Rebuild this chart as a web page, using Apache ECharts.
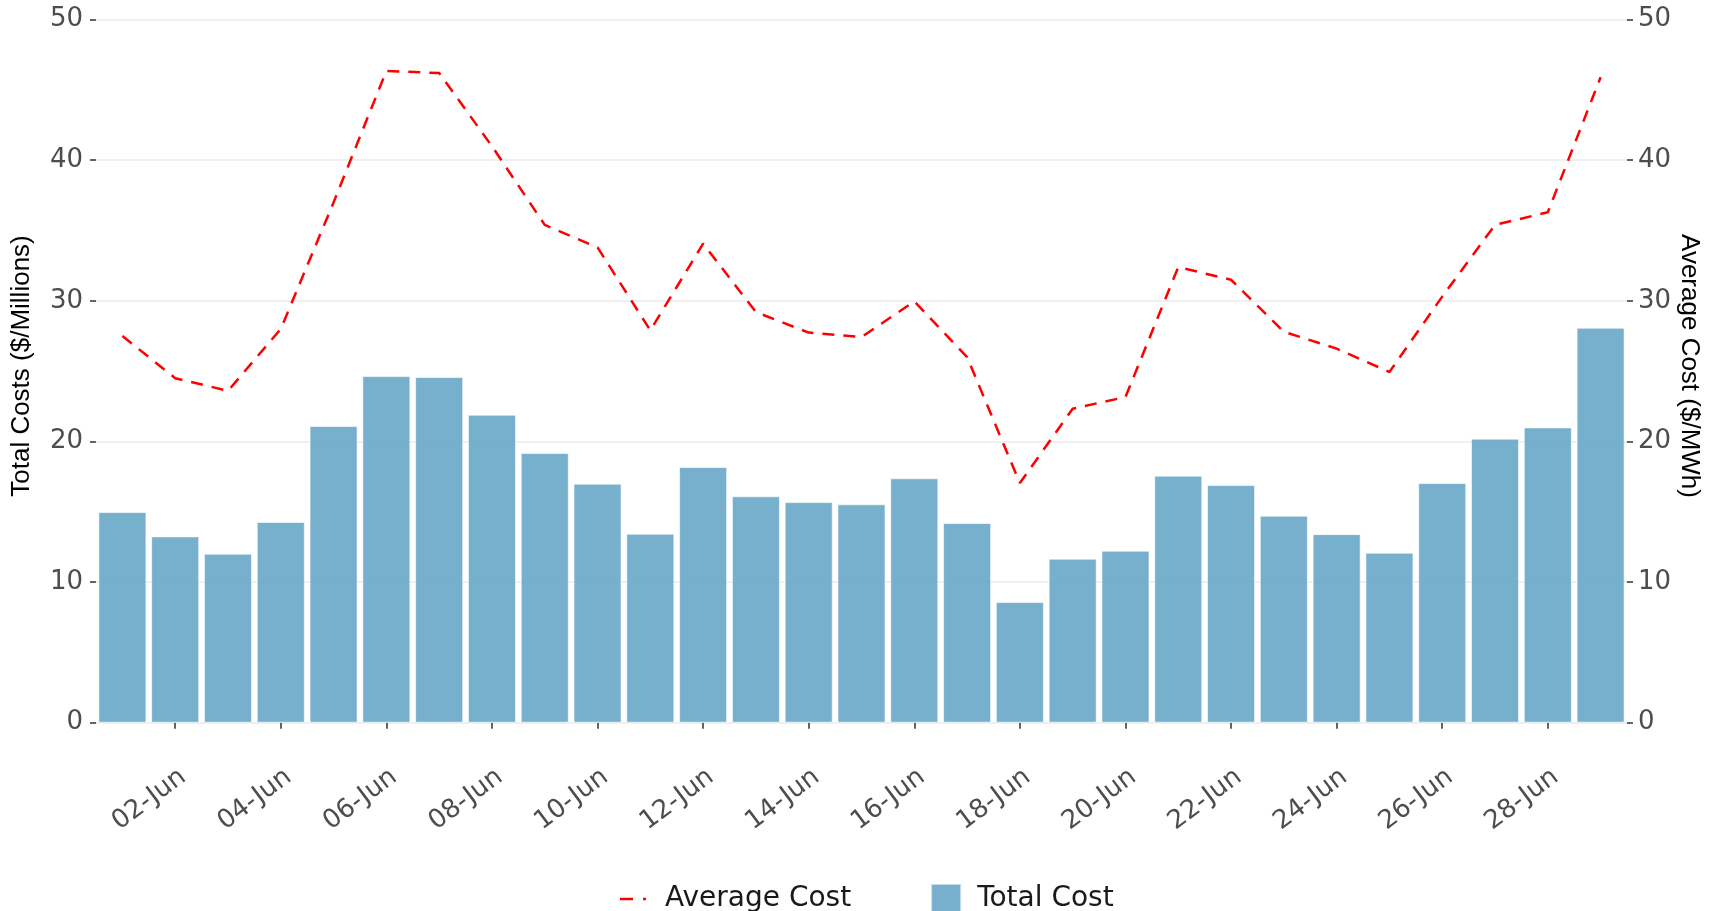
<!DOCTYPE html>
<html>
<head>
<meta charset="utf-8">
<script src="https://cdn.jsdelivr.net/npm/echarts@6/dist/echarts.min.js"></script>
<style>
  html, body { margin: 0; padding: 0; background: #ffffff; }
  #chart { width: 1709px; height: 911px; }
</style>
</head>
<body>
<div id="chart"></div>
<script>
var categories = ['01-Jun','02-Jun','03-Jun','04-Jun','05-Jun','06-Jun','07-Jun','08-Jun','09-Jun','10-Jun',
                  '11-Jun','12-Jun','13-Jun','14-Jun','15-Jun','16-Jun','17-Jun','18-Jun','19-Jun','20-Jun',
                  '21-Jun','22-Jun','23-Jun','24-Jun','25-Jun','26-Jun','27-Jun','28-Jun','29-Jun'];
var totalCost = [14.98, 13.25, 12.02, 14.27, 21.1, 24.65, 24.58, 21.9, 19.18, 17.0,
                 13.44, 18.18, 16.1, 15.69, 15.53, 17.38, 14.2, 8.58, 11.66, 12.23,
                 17.57, 16.9, 14.72, 13.41, 12.09, 17.04, 20.2, 21.0, 28.09];
var avgCost = [27.5, 24.5, 23.6, 28.0, 37.0, 46.35, 46.2, 41.0, 35.4, 33.8,
               27.9, 34.07, 29.2, 27.74, 27.43, 29.96, 26.0, 17.04, 22.33, 23.16,
               32.4, 31.5, 27.8, 26.6, 24.94, 30.3, 35.4, 36.3, 45.9];
var yTicks = { min: 0, max: 50, interval: 10 };
var leftTitle = 'Total Costs ($/Millions)';
var rightTitle = 'Average Cost ($/MWh)';

var chart = echarts.init(document.getElementById('chart'), null, { renderer: 'canvas' });
var tickFont = 'DejaVu Sans';
var showEvery2 = function (idx) { return idx % 2 === 1; };
var dashIcon = 'path://M0,0h0.05v0.05h-0.05zM1,13.7h13v2.6h-13zM24,13.7h3v2.6h-3zM29.95,29.95h0.05v0.05h-0.05z';

var option = {
  backgroundColor: '#ffffff',
  animation: false,
  grid: { left: 96, right: 82, top: 19.6, bottom: 188.3, containLabel: false },
  legend: {
    data: [
      { name: 'Average Cost', icon: dashIcon, itemStyle: { color: '#ff0000', borderWidth: 0 }, lineStyle: { width: 0, opacity: 0 } },
      { name: 'Total Cost', icon: 'rect' }
    ],
    left: 614,
    top: 878,
    itemWidth: 30,
    itemHeight: 30,
    itemGap: 79,
    textStyle: { fontFamily: tickFont, fontSize: 28, color: '#1a1a1a', padding: [0, 0, 0, 11] }
  },
  xAxis: {
    type: 'category',
    data: categories,
    offset: 35,
    axisLine: { show: false },
    axisTick: { show: true, alignWithLabel: true, interval: showEvery2, length: 6, lineStyle: { color: '#333333', width: 1.5 } },
    axisLabel: { interval: showEvery2, rotate: 37, margin: 6, verticalAlign: 'top', fontFamily: tickFont, fontSize: 26, color: '#4d4d4d' },
    splitLine: { show: false }
  },
  yAxis: [
    {
      type: 'value', min: yTicks.min, max: yTicks.max, interval: yTicks.interval, position: 'left',
      axisLine: { show: false },
      axisTick: { show: true, length: 6, lineStyle: { color: '#333333', width: 1.5 } },
      axisLabel: { margin: 13, fontFamily: tickFont, fontSize: 26, color: '#4d4d4d' },
      splitLine: { show: true, lineStyle: { color: '#ebebeb', width: 1.5 } }
    },
    {
      type: 'value', min: yTicks.min, max: yTicks.max, interval: yTicks.interval, position: 'right',
      axisLine: { show: false },
      axisTick: { show: true, length: 6, lineStyle: { color: '#333333', width: 1.5 } },
      axisLabel: { margin: 11, fontFamily: tickFont, fontSize: 26, color: '#4d4d4d' },
      splitLine: { show: false }
    }
  ],
  series: [
    {
      name: 'Total Cost',
      type: 'bar',
      yAxisIndex: 0,
      data: totalCost,
      barCategoryGap: '9%',
      itemStyle: { color: 'rgba(104,167,198,0.9)', borderColor: 'rgba(255,255,255,0.6)', borderWidth: 1 }
    },
    {
      name: 'Average Cost',
      type: 'line',
      yAxisIndex: 1,
      data: avgCost,
      symbol: 'none',
      z: 5,
      lineStyle: { color: '#ff0000', width: 2.5, type: [12, 9] },
      itemStyle: { color: '#ff0000' }
    }
  ],
  graphic: [
    {
      type: 'text', x: 22, y: 366, rotation: Math.PI / 2,
      style: { text: leftTitle, fontFamily: 'Liberation Sans', fontSize: 26, fill: '#000000', align: 'center', verticalAlign: 'middle' }
    },
    {
      type: 'text', x: 1689, y: 366, rotation: -Math.PI / 2,
      style: { text: rightTitle, fontFamily: 'Liberation Sans', fontSize: 26, fill: '#000000', align: 'center', verticalAlign: 'middle' }
    }
  ]
};
chart.setOption(option);
</script>
</body>
</html>
